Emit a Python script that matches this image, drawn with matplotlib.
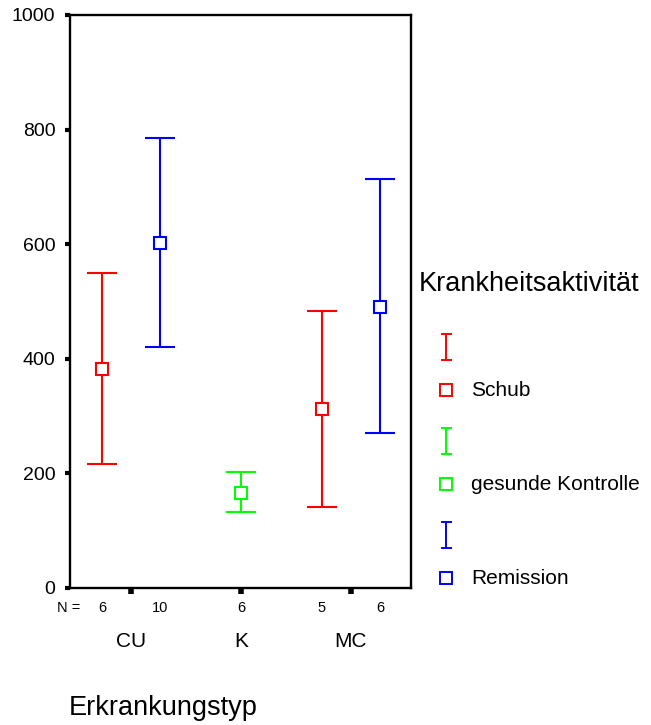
import numpy as np
import matplotlib
matplotlib.use('Agg')
import matplotlib.pyplot as plt

plt.rcParams['font.family'] = ['Liberation Sans', 'DejaVu Sans']

# data (mean with lower / upper error limit)
categories = ['CU', 'K', 'MC']
series = ['Schub', 'gesunde Kontrolle', 'Remission']
colors = ['#ff0000', '#00ff00', '#0000ff']

schub_mean = [383, np.nan, 313]
schub_low = [216, np.nan, 142]
schub_high = [550, np.nan, 483]

kontrolle_mean = [np.nan, 166, np.nan]
kontrolle_low = [np.nan, 132, np.nan]
kontrolle_high = [np.nan, 202, np.nan]

remission_mean = [602, np.nan, 491]
remission_low = [421, np.nan, 271]
remission_high = [786, np.nan, 714]

schub_n = [6, None, 5]
kontrolle_n = [None, 6, None]
remission_n = [10, None, 6]

means = [schub_mean, kontrolle_mean, remission_mean]
lows = [schub_low, kontrolle_low, remission_low]
highs = [schub_high, kontrolle_high, remission_high]
counts = [schub_n, kontrolle_n, remission_n]
offsets = [-0.265, 0.0, 0.265]

W, H = 651, 725
fig = plt.figure(figsize=(W / 100, H / 100), dpi=100)
ax = fig.add_axes([70 / W, 1 - 588 / H, (411 - 70) / W, (588 - 15) / H])

xpos = np.arange(1, len(categories) + 1)
for m, lo, hi, n, off, col in zip(means, lows, highs, counts, offsets, colors):
    m = np.array(m, dtype=float)
    lo = np.array(lo, dtype=float)
    hi = np.array(hi, dtype=float)
    x = xpos + off
    ok = ~np.isnan(m)
    ax.errorbar(x[ok], m[ok], yerr=[m[ok] - lo[ok], hi[ok] - m[ok]], fmt='none',
                ecolor=col, elinewidth=1.5, capsize=10.5, capthick=1.5, zorder=2)
    ax.plot(x[ok], m[ok], 's', ms=8, mfc='white', mec=col, mew=1.5, zorder=3)
    # case counts under the axis
    for xi, ni in zip(x, n):
        if ni is not None:
            ax.text(xi, -0.0349, str(ni), transform=ax.get_xaxis_transform(),
                    ha='center', va='center', fontsize=10.5)

for xi, cat in zip(xpos, categories):
    ax.text(xi, -0.0925, cat, transform=ax.get_xaxis_transform(),
            ha='center', va='center', fontsize=15)

ax.set_xlim(1 - 61 / 110, 3 + 60 / 110)
ax.set_ylim(0, 1000)
ax.set_yticks([0, 200, 400, 600, 800, 1000])
ax.set_xticks(xpos)
ax.set_xticklabels([])
ax.tick_params(axis='y', direction='out', length=3.6, width=3, pad=7, labelsize=14)
ax.tick_params(axis='x', direction='out', length=4, width=4)
for s in ax.spines.values():
    s.set_linewidth(1.7)

# overlay in pixel coordinates for the legend and the outer labels
ov = fig.add_axes([0, 0, 1, 1], facecolor='none')
ov.set_xlim(0, W)
ov.set_ylim(H, 0)
ov.axis('off')

ov.text(80, 608, 'N =', ha='right', va='center', fontsize=10.5)
ov.text(69, 715, 'Erkrankungstyp', ha='left', va='baseline', fontsize=19.5)
ov.text(419, 291, 'Krankheitsaktivität', ha='left', va='baseline', fontsize=19.5)

bar_y = [347, 441, 535]
sq_y = [390, 484, 578]
for by, sy, col, name in zip(bar_y, sq_y, colors, series):
    ov.plot([446, 446], [by - 13, by + 13], color=col, lw=1.4)
    ov.plot([441.5, 450.5], [by - 13, by - 13], color=col, lw=1.4)
    ov.plot([441.5, 450.5], [by + 13, by + 13], color=col, lw=1.4)
    ov.plot([446], [sy], 's', ms=8, mfc='white', mec=col, mew=1.4)
    ov.text(471, sy, name, ha='left', va='center', fontsize=15)

fig.savefig('out.png', dpi=100)
